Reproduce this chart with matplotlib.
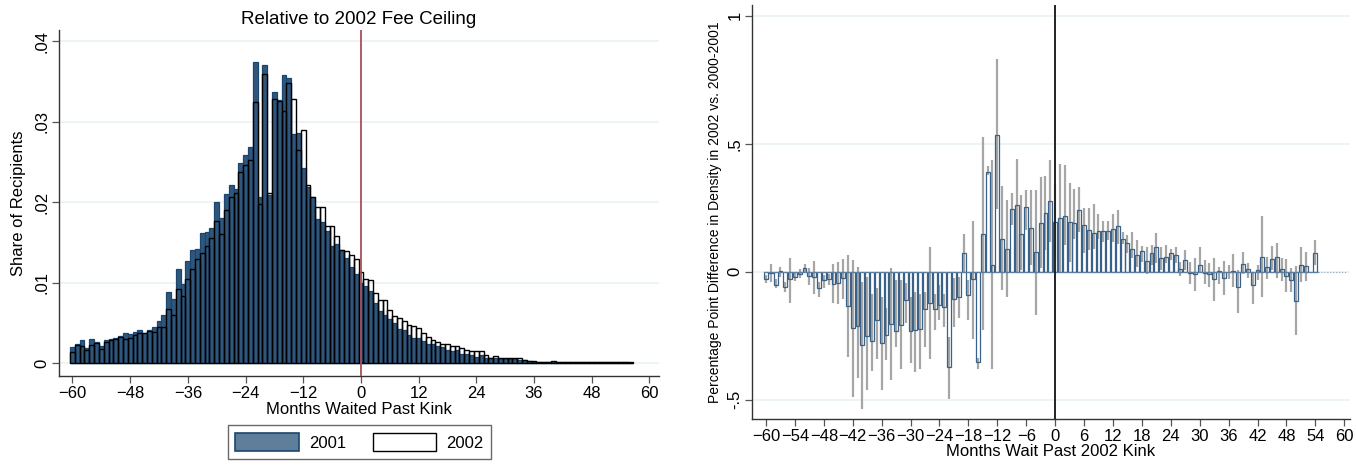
import numpy as np
import matplotlib
matplotlib.use("Agg")
from matplotlib import pyplot as plt
from matplotlib.patches import Patch

plt.rcParams['font.family'] = ['Liberation Sans', 'DejaVu Sans']

# ---- left panel: share of recipients by months waited past kink ----
months_l = np.arange(-60, 57)
share_2001 = [
    .0020, .0024, .0029, .0019, .0030, .0026, .0022, .0029, .0030, .0031,
    .0034, .0037, .0036, .0039, .0041, .0038, .0041, .0045, .0053, .0060,
    .0088, .0080, .0117, .0098, .0127, .0141, .0142, .0162, .0163, .0168,
    .0200, .0180, .0210, .0222, .0217, .0249, .0259, .0269, .0374, .0206,
    .0370, .0209, .0337, .0327, .0358, .0354, .0285, .0286, .0243, .0219,
    .0207, .0179, .0175, .0164, .0146, .0148, .0141, .0131, .0119, .0111,
    .0100, .0096, .0090, .0075, .0065, .0060, .0055, .0050, .0043, .0041,
    .0035, .0032, .0032, .0028, .0024, .0024, .0022, .0020, .0016, .0015,
    .0016, .0012, .0012, .0010, .0008, .0010, .0007, .0006, .0007, .0005,
    .0005, .0005, .0005, .0004, .0004, .0003, .0002, .0002, .0002, .0001,
    .0001, .0001, .0001, .0001, .0001, .0001, .0001, .0001, .0001, .0001,
    .0001, .0001, .0001, .0001, .0001, .0001, 0.0]
share_2002 = [
    .0014, .0023, .0022, .0017, .0023, .0025, .0018, .0026, .0029, .0030,
    .0033, .0030, .0031, .0035, .0037, .0038, .0040, .0039, .0045, .0045,
    .0067, .0060, .0092, .0084, .0105, .0117, .0129, .0137, .0146, .0156,
    .0177, .0161, .0190, .0207, .0211, .0237, .0246, .0252, .0325, .0198,
    .0359, .0211, .0328, .0326, .0313, .0348, .0328, .0265, .0290, .0222,
    .0207, .0194, .0194, .0170, .0170, .0158, .0141, .0140, .0134, .0130,
    .0114, .0105, .0103, .0087, .0079, .0079, .0066, .0059, .0056, .0053,
    .0047, .0046, .0044, .0038, .0033, .0029, .0026, .0024, .0024, .0021,
    .0022, .0019, .0017, .0015, .0015, .0015, .0010, .0007, .0009, .0007,
    .0006, .0006, .0006, .0006, .0004, .0003, .0003, .0002, .0002, .0001,
    .0003, .0001, .0001, .0001, .0001, .0001, .0001, .0001, .0001, .0001,
    .0001, .0001, .0001, .0001, .0001, .0001, .0001]
yticks_l = [0, .01, .02, .03, .04]
ytick_labels_l = ["0", ".01", ".02", ".03", ".04"]
xticks_l = [-60, -48, -36, -24, -12, 0, 12, 24, 36, 48, 60]

# ---- right panel: percentage point difference with confidence intervals ----
months_r = np.arange(-60, 55)
diff = [
    -0.030, -0.004, -0.050, 0.002, -0.061, -0.030, -0.022, -0.009, 0.016, -0.016,
    -0.020, -0.063, -0.033, -0.030, -0.046, -0.043, -0.023, -0.133, -0.221, -0.210,
    -0.284, -0.249, -0.272, -0.189, -0.277, -0.245, -0.202, -0.232, -0.206, -0.111,
    -0.232, -0.228, -0.225, -0.145, -0.120, -0.147, -0.129, -0.139, -0.371, -0.108,
    -0.100, 0.072, -0.091, -0.030, -0.354, 0.147, 0.390, 0.026, 0.536, 0.130,
    0.089, 0.247, 0.260, 0.146, 0.254, 0.173, 0.076, 0.191, 0.229, 0.276,
    0.193, 0.211, 0.216, 0.193, 0.189, 0.243, 0.182, 0.165, 0.152, 0.158,
    0.160, 0.160, 0.167, 0.177, 0.128, 0.113, 0.091, 0.065, 0.081, 0.042,
    0.072, 0.095, 0.052, 0.059, 0.072, 0.065, 0.010, 0.046, -0.003, -0.009,
    0.026, -0.004, -0.009, -0.030, 0.004, -0.023, -0.002, 0.004, -0.061, 0.030,
    0.009, -0.052, 0.008, 0.056, 0.020, 0.051, 0.056, 0.009, -0.016, -0.033,
    -0.113, 0.025, 0.021, 0.000, 0.072]
ci_lo = [
    -0.045, -0.039, -0.062, -0.020, -0.080, -0.120, -0.036, -0.026, -0.006, -0.052,
    -0.085, -0.098, -0.065, -0.052, -0.120, -0.126, -0.107, -0.332, -0.488, -0.414,
    -0.534, -0.462, -0.388, -0.339, -0.460, -0.345, -0.423, -0.293, -0.378, -0.200,
    -0.358, -0.390, -0.380, -0.293, -0.339, -0.228, -0.189, -0.215, -0.495, -0.215,
    -0.182, 0.000, -0.190, -0.264, -0.378, -0.228, 0.378, -0.378, 0.247, -0.072,
    -0.098, 0.182, 0.000, 0.007, 0.163, 0.026, -0.170, 0.013, 0.085, 0.117,
    0.050, 0.000, 0.104, 0.039, 0.130, 0.156, 0.072, 0.085, 0.091, 0.130,
    0.117, 0.124, 0.115, 0.110, 0.110, 0.072, 0.052, 0.020, 0.040, -0.010,
    0.026, 0.033, 0.007, 0.033, 0.046, 0.033, -0.017, 0.007, -0.046, -0.074,
    0.000, -0.046, -0.061, -0.113, -0.046, -0.091, -0.030, -0.059, -0.160, -0.007,
    -0.026, -0.124, -0.033, -0.100, -0.030, 0.007, -0.026, -0.035, -0.078, -0.078,
    -0.247, -0.039, -0.035, 0.000, 0.026]
ci_hi = [
    -0.012, 0.029, -0.030, 0.020, -0.040, 0.052, -0.006, 0.010, 0.030, 0.013,
    0.043, -0.040, -0.013, -0.007, 0.030, 0.039, 0.051, 0.065, 0.046, 0.020,
    -0.039, -0.020, -0.085, -0.065, -0.098, -0.143, 0.013, -0.033, -0.033, -0.045,
    -0.098, -0.078, -0.085, -0.078, 0.098, -0.085, -0.052, -0.085, -0.254, -0.026,
    -0.020, 0.146, -0.033, 0.198, -0.336, 0.527, 0.413, 0.436, 0.830, 0.335,
    0.280, 0.306, 0.439, 0.300, 0.319, 0.320, 0.320, 0.370, 0.375, 0.436,
    0.340, 0.423, 0.417, 0.348, 0.325, 0.332, 0.250, 0.250, 0.263, 0.224,
    0.198, 0.200, 0.224, 0.240, 0.156, 0.143, 0.154, 0.124, 0.100, 0.095,
    0.104, 0.150, 0.098, 0.104, 0.091, 0.098, 0.039, 0.087, 0.039, 0.052,
    0.095, 0.048, 0.033, 0.052, 0.020, 0.042, 0.026, 0.069, 0.007, 0.078,
    0.033, 0.000, 0.026, 0.217, 0.059, 0.100, 0.113, 0.052, 0.050, 0.013,
    0.022, 0.095, 0.078, 0.000, 0.126]
yticks_r = [-.5, 0, .5, 1]
ytick_labels_r = ["-.5", "0", ".5", "1"]
xticks_r = list(range(-60, 61, 6))

navy = '#1a476f'
grid_c = '#eaf2f3'

fig = plt.figure(figsize=(13.56, 4.65), dpi=100)
ax1 = fig.add_axes([0.0435, 0.1914, 0.4425, 0.7441])
ax2 = fig.add_axes([0.5546, 0.0989, 0.4410, 0.8903])

# left histogram
ax1.bar(months_l, share_2001, width=1.0, color='#30567c', edgecolor=navy, linewidth=0.9, zorder=2)
ax1.bar(months_l, share_2002, width=1.0, facecolor='none', edgecolor='black', linewidth=1.0, zorder=3)
ax1.axvline(0, color='#a84e55', lw=1.3, zorder=4)
ax1.set_xlim(-62.8, 62)
ax1.set_ylim(-0.00158, 0.0414)
ax1.set_yticks(yticks_l)
ax1.set_yticklabels(ytick_labels_l, rotation=90, va='center')
ax1.set_xticks(xticks_l)
ax1.grid(axis='y', color=grid_c, lw=1.2, zorder=0)
ax1.set_axisbelow(True)
ax1.set_title("Relative to 2002 Fee Ceiling", fontsize=13.5, pad=4)
ax1.set_xlabel("Months Waited Past Kink", fontsize=12, labelpad=1)
ax1.set_ylabel("Share of Recipients", fontsize=12, labelpad=6)

legend_handles = [Patch(facecolor='#5f7e9a', edgecolor=navy, linewidth=1.2, label='2001'),
                  Patch(facecolor='white', edgecolor='black', linewidth=1.0, label='2002')]
fig.legend(handles=legend_handles, loc='center', bbox_to_anchor=(0.265, 0.0495), ncol=2,
           fontsize=12, frameon=True, fancybox=False, edgecolor='#444444',
           handlelength=3.8, handleheight=1.3, columnspacing=1.6, handletextpad=0.6,
           borderpad=0.45)

# right difference chart
ax2.vlines(months_r, ci_lo, ci_hi, color='#a6a6a6', lw=1.6, zorder=2)
ax2.bar(months_r, diff, width=0.8, facecolor='none', edgecolor='#3a6288', linewidth=0.9, zorder=3)
ax2.plot([-60.5, 54.5], [0, 0], color='#5c7fa1', lw=0.8, zorder=3)
ax2.plot([54.5, 60.5], [0, 0], color='#8aa3ba', lw=0.8, ls=':', zorder=3)
ax2.axvline(0, color='#222222', lw=1.4, zorder=4)
ax2.set_xlim(-62.9, 61.2)
ax2.set_ylim(-0.575, 1.042)
ax2.set_yticks(yticks_r)
ax2.set_yticklabels(ytick_labels_r, rotation=90, va='center')
ax2.set_xticks(xticks_r)
ax2.grid(axis='y', color=grid_c, lw=1.2, zorder=0)
ax2.set_axisbelow(True)
ax2.set_xlabel("Months Wait Past 2002 Kink", fontsize=12, labelpad=0)
ax2.set_ylabel("Percentage Point Difference in Density in 2002 vs. 2000-2001", fontsize=10, labelpad=4)

for ax in (ax1, ax2):
    for side in ('top', 'right'):
        ax.spines[side].set_visible(False)
    for side in ('left', 'bottom'):
        ax.spines[side].set_color('#333333')
        ax.spines[side].set_linewidth(1.0)
    ax.tick_params(axis='both', labelsize=12, length=5, width=0.9, color='#555555', pad=2)

fig.savefig("out.png", dpi=100)
